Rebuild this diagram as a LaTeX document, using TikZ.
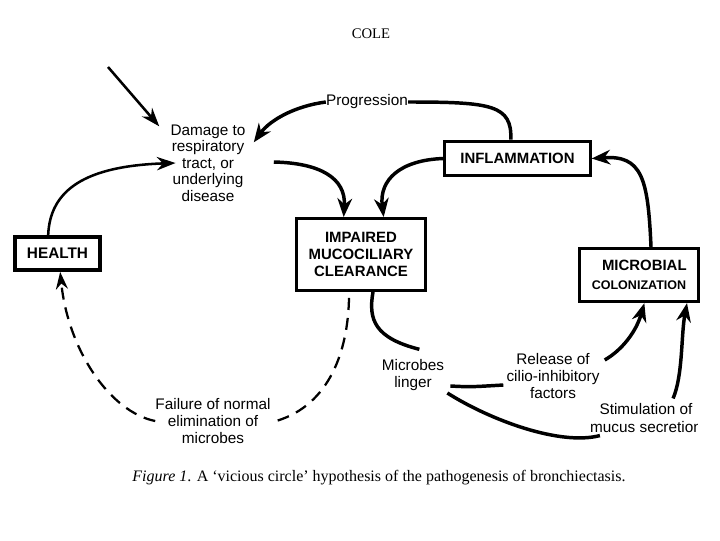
\documentclass[tikz,border=0pt]{standalone}
\usepackage{fontspec}
\setmainfont{Liberation Sans}
\newfontfamily\seriffont{Liberation Serif}
\usetikzlibrary{arrows.meta}
\begin{document}
\begin{tikzpicture}[x=0.75pt,y=-0.75pt,
  lbl/.style={align=center,font=\fontsize{11.5}{12.4}\selectfont,inner sep=0pt},
  box/.style={draw,line width=2.2pt,align=center,font=\fontsize{11.2}{12.8}\selectfont\bfseries,inner sep=0pt},
  arr/.style={line width=2.6pt,-{Stealth[length=14pt,width=11pt]}},
  thinarr/.style={line width=1.9pt,-{Stealth[length=14pt,width=10pt]}},
  link/.style={line width=2.6pt},
  dashline/.style={line width=1.7pt,dash pattern=on 9pt off 6pt}]
\useasboundingbox (0,0) rectangle (720,540);

% header and caption
\node[font=\seriffont\fontsize{11}{13}\selectfont] (cole) at (371,34) {COLE};
\node[font=\seriffont\fontsize{12}{14}\selectfont] (cap) at (379,478)
  {\textit{Figure 1}. A ‘vicious circle’ hypothesis of the pathogenesis of bronchiectasis.};

% texts
\node[lbl] (dmg) at (208,163) {Damage to\\respiratory\\tract, or\\underlying\\disease};
\node[lbl] (prog) at (367,102) {Progression};
\node[lbl] (micl) at (413,375) {Microbes\\linger};
\node[lbl] (rel) at (553,376) {Release of\\cilio-inhibitory\\factors};
\node[lbl] (fail) at (213,421) {Failure of normal\\elimination of\\microbes};
\begin{scope}
  \clip (0,0) rectangle (697,540);
  \node[lbl,font=\fontsize{11.5}{13}\selectfont] (stim) at (646,418) {Stimulation of\\mucus secretion};
\end{scope}

% boxes
\node[box,minimum width=109pt,minimum height=26pt] (infl) at (517.5,158.5) {INFLAMMATION};
\node[box,minimum width=97pt,minimum height=54pt] (imp) at (361,254.5) {IMPAIRED\\MUCOCILIARY\\CLEARANCE};
\node[box,line width=2.6pt,minimum width=64pt,minimum height=25pt,font=\fontsize{11.5}{13}\selectfont\bfseries] (health) at (57.5,253.5) {HEALTH};
\node[box,minimum width=89pt,minimum height=40pt] (micro) at (639,275)
  {\hspace*{8pt}MICROBIAL\\[1pt]{\fontsize{9.4}{11}\selectfont COLONIZATION}};

% connectors
\coordinate (src) at (108,67);
\draw[thinarr] (src) -- ([shift={(-11,2)}]dmg.north west);
\draw[link] ([xshift=-5]infl.north) .. controls (512,105) and (492,102) .. (prog.east);
\draw[arr] (prog.west) .. controls (295,106) and (270,120) .. ([shift={(8,18)}]dmg.north east);
\draw[arr] ([shift={(28,-1)}]dmg.east) .. controls (320,163) and (346,178) .. ([xshift=-13]imp.north);
\draw[arr] (infl.west) .. controls (400,160) and (379,180) .. ([xshift=17]imp.north);
\draw[thinarr] ([xshift=-7]health.north) .. controls (50,190) and (85,166) .. ([xshift=4]dmg.west);
\draw[arr] ([xshift=9]micro.north) .. controls (648,178) and (642,155) .. (infl.east);
\draw[link] ([xshift=9]imp.south) .. controls (368,320) and (375,338) .. ([shift={(-25,-10)}]micl.north east);
\draw[link] ([shift={(6,11)}]micl.east) .. controls (470,387) .. ([shift={(-3,9)}]rel.west);
\draw[arr] ([shift={(5,-16)}]rel.east) .. controls (622,350) and (636,332) .. ([xshift=4]micro.south);
\draw[link] ([shift={(3,18)}]micl.east) .. controls (490,420) and (560,446) .. ([shift={(10,3)}]stim.south west);
\draw[arr] ([shift={(-29,-5)}]stim.north east) .. controls (683,375) and (681,335) .. ([xshift=36]micro.south);
\draw[dashline] ([shift={(-12,6)}]imp.south) .. controls (348,350) and (330,405) .. ([xshift=4]fail.east);
\draw[dashline,-{Stealth[length=13pt,width=9pt]}] (fail.west) .. controls (110,412) and (68,350) .. ([xshift=2]health.south);
\end{tikzpicture}
\end{document}
